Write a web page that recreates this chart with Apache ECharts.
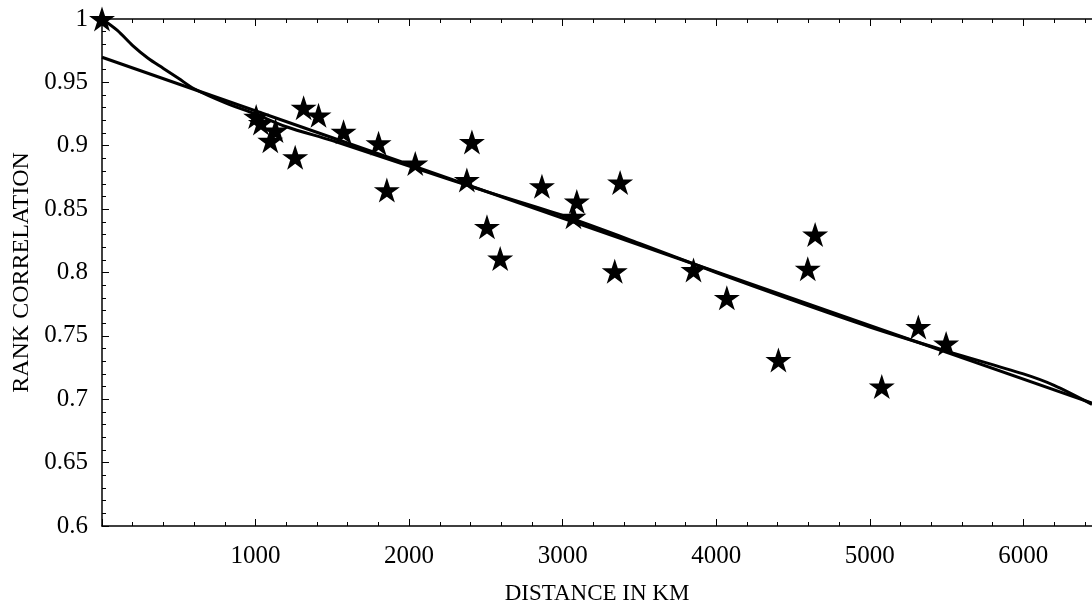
<!DOCTYPE html>
<html>
<head>
<meta charset="utf-8">
<script src="https://cdn.jsdelivr.net/npm/echarts@6/dist/echarts.min.js"></script>
<style>
html,body{margin:0;padding:0;background:#fff;}
#chart{width:1092px;height:600px;}
</style>
</head>
<body>
<div id="chart"></div>
<script>
// Observed data points (distance km, rank correlation)
const pointDistance = [0, 1004, 1035, 1096, 1130, 1258, 1313, 1410, 1573, 1801, 1855, 2040, 2376, 2409, 2507, 2593, 2865, 3070, 3092, 3339, 3374, 3852, 4069, 4405, 4596, 4644, 5078, 5316, 5497];
const pointCorr     = [1.0, 0.923, 0.918, 0.904, 0.912, 0.891, 0.930, 0.924, 0.911, 0.902, 0.865, 0.886, 0.873, 0.903, 0.836, 0.811, 0.868, 0.844, 0.856, 0.801, 0.871, 0.802, 0.780, 0.731, 0.803, 0.830, 0.710, 0.757, 0.744];

// Straight regression line endpoints
const lineDistance = [0, 6447];
const lineCorr     = [0.9698, 0.697];

// Smooth fitted curve
const curveDistance = [0, 100, 200, 300, 400, 500, 600, 800, 1000, 1200, 1500, 2000, 2500, 3000, 3500, 4000, 4500, 5000, 5500, 6000, 6200, 6447];
const curveCorr     = [1.0, 0.991, 0.979, 0.969, 0.961, 0.953, 0.945, 0.934, 0.925, 0.915, 0.904, 0.884, 0.864, 0.845, 0.823, 0.800, 0.778, 0.757, 0.738, 0.720, 0.711, 0.696];

const xMin = 0, xMax = 6447, yMin = 0.6, yMax = 1;
const xTickLabels = [1000, 2000, 3000, 4000, 5000, 6000];

const starPath = 'path://M50 0 L61.23 34.55 L97.55 34.55 L68.17 55.9 L79.39 90.45 L50 69.1 L20.61 90.45 L31.83 55.9 L2.45 34.55 L38.77 34.55 Z';
const FONT = '"Liberation Serif", "DejaVu Serif", serif';

const zip = (a, b) => a.map((v, i) => [v, b[i]]);

const chart = echarts.init(document.getElementById('chart'), null, {renderer: 'canvas'});
chart.setOption({
  animation: false,
  backgroundColor: '#fff',
  grid: {left: 102, top: 19, right: 0, bottom: 74, containLabel: false, outerBoundsMode: 'none'},
  xAxis: [{
    type: 'value', min: xMin, max: xMax, interval: 1000,
    name: 'DISTANCE IN KM', nameLocation: 'middle', nameGap: 56,
    nameTextStyle: {fontFamily: FONT, fontSize: 23, color: '#000'},
    axisLine: {show: true, onZero: false, lineStyle: {color: '#000', width: 1.5}},
    axisTick: {show: true, inside: true, length: 7, lineStyle: {color: '#000', width: 1}},
    minorTick: {show: true, splitNumber: 5, length: 4, lineStyle: {color: '#000', width: 1}},
    axisLabel: {
      fontFamily: FONT, fontSize: 25, color: '#000', margin: 18,
      showMaxLabel: false,
      formatter: v => xTickLabels.includes(v) ? String(v) : ''
    },
    splitLine: {show: false}, minorSplitLine: {show: false}
  }, {
    type: 'value', position: 'top', min: xMin, max: xMax, interval: 1000,
    axisLine: {show: true, onZero: false, lineStyle: {color: '#000', width: 1.5}},
    axisTick: {show: true, inside: true, length: 7, lineStyle: {color: '#000', width: 1}},
    minorTick: {show: true, splitNumber: 5, length: 4, lineStyle: {color: '#000', width: 1}},
    axisLabel: {show: false},
    splitLine: {show: false}
  }],
  yAxis: [{
    type: 'value', min: yMin, max: yMax, interval: 0.05,
    name: 'RANK CORRELATION', nameLocation: 'middle', nameGap: 68, nameRotate: 90,
    nameTextStyle: {fontFamily: FONT, fontSize: 24, color: '#000'},
    axisLine: {show: true, onZero: false, lineStyle: {color: '#000', width: 1.5}},
    axisTick: {show: true, inside: true, length: 7, lineStyle: {color: '#000', width: 1}},
    minorTick: {show: true, splitNumber: 5, length: 4, lineStyle: {color: '#000', width: 1}},
    axisLabel: {fontFamily: FONT, fontSize: 25, color: '#000', margin: 14,
      formatter: v => String(Math.round(v * 100) / 100)},
    splitLine: {show: false}, minorSplitLine: {show: false}
  }],
  series: [{
    type: 'line', data: zip(lineDistance, lineCorr), showSymbol: false, symbol: 'none',
    lineStyle: {color: '#000', width: 3}, z: 2, silent: true
  }, {
    type: 'line', data: zip(curveDistance, curveCorr), showSymbol: false, symbol: 'none', smooth: 0.3,
    lineStyle: {color: '#000', width: 3}, z: 2, silent: true
  }, {
    type: 'scatter', data: zip(pointDistance, pointCorr), symbol: starPath, symbolSize: [26, 25],
    itemStyle: {color: '#000', opacity: 1}, z: 3, clip: false
  }]
});
</script>
</body>
</html>
